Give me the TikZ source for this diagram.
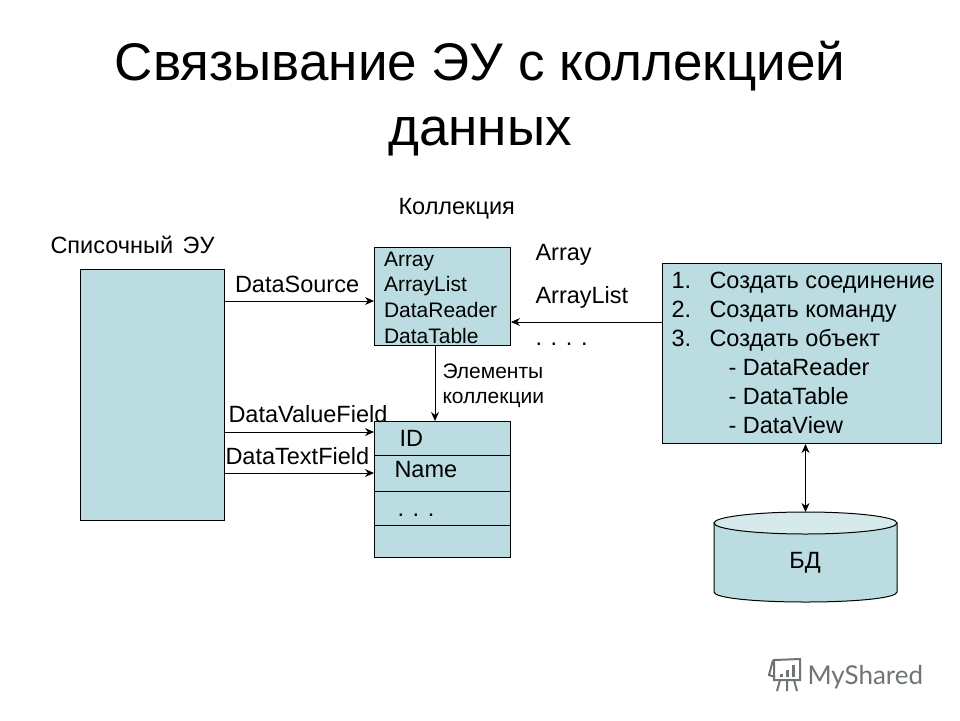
\documentclass[tikz,border=0pt]{standalone}
\usepackage{fontspec}
\setmainfont{Liberation Sans}
\newfontfamily\markfont{Lato}
\usetikzlibrary{arrows.meta}
\definecolor{boxfill}{HTML}{BBDDE1}
\definecolor{dbcap}{HTML}{D6EAEC}
\definecolor{markgray}{HTML}{6F7573}
\begin{document}
\begin{tikzpicture}[x=1pt,y=-1pt,
  font=\fontsize{23.5}{28}\selectfont, line width=1pt,
  box/.style={draw, fill=boxfill, anchor=north west, inner sep=0pt},
  lab/.style={anchor=base west, inner sep=0pt},
  small/.style={lab, font=\fontsize{21}{25}\selectfont},
  head/.style={anchor=base, inner sep=0pt, font=\fontsize{53}{64}\selectfont},
  arr/.style={-{Stealth[length=9pt,width=8pt]}}
]
\useasboundingbox (0,0) rectangle (960,720);
\fill[white] (0,0) rectangle (960,720);

\node[head] (title1) at (480,80) {Связывание ЭУ с коллекцией};
\node[head] (title2) at (480,145) {данных};

\node[lab] (listlab) at (50,253) {Списочный\hspace{3pt} ЭУ};
\node[box, minimum width=144, minimum height=251] (listbox) at (80,269) {};

\node[lab] (collab) at (398,214) {Коллекция};
\node[box, minimum width=136, minimum height=98] (coll) at (374,247) {};
\foreach \txt/\yy in {Array/266, ArrayList/291, DataReader/317, DataTable/343}
  \node[small] at (383.5,\yy) {\txt};

\node[box, minimum width=136, minimum height=34] (fid) at (374,421) {};
\node[box, minimum width=136, minimum height=36] (fname) at (374,455) {};
\node[box, minimum width=136, minimum height=34] (fdots) at (374,491) {};
\node[box, minimum width=136, minimum height=32] (fempty) at (374,525) {};
\node[lab] (idlab) at (399,446) {ID};
\node[lab] (namelab) at (394,477) {Name};
\node[lab] (dotslab) at (397,516) {. . .};

\node[box, minimum width=279, minimum height=180] (steps) at (662,263) {};
\foreach \num/\txt/\yy in {1./Создать соединение/288, 2./Создать команду/317, 3./Создать объект/346} {
  \node[lab] at (671,\yy) {\num};
  \node[lab] at (709,\yy) {\txt};
}
\foreach \txt/\yy in {DataReader/375, DataTable/404, DataView/433}
  \node[lab] at (728,\yy) {- \txt};

\path[draw, fill=boxfill] (714,523) -- (714,592) .. controls (714,598) and (755,602) .. (805.5,602)
  .. controls (856,602) and (897,598) .. (897,592) -- (897,523) -- cycle;
\draw[fill=dbcap] (805.5,523) ellipse [x radius=91.5, y radius=11];
\coordinate (dbhead) at (805.5,512);
\node[inner sep=0pt] (dblab) at (805,563) {БД};

\node[lab] (a1) at (535,260) {Array};
\node[lab] (a2) at (535,303) {ArrayList};
\node[lab] (a3) at (535,345) {. . . .};
\foreach \txt/\yy in {Элементы/378, коллекции/403}
  \node[small] at (442,\yy) {\txt};
\node[lab] (dsrc) at (234.5,292) {DataSource};
\node[lab] (dval) at (228,422) {DataValueField};
\node[lab] (dtxt) at (225,464) {DataTextField};

\draw[arr] (listbox.east |- 0,301) -- (coll.west |- 0,301);
\draw[arr] (listbox.east |- 0,432) -- (fid.west |- 0,432);
\draw[arr] (listbox.east |- 0,473) -- (fname.west |- 0,473);
\draw[arr] (coll.south -| 435,0) -- (fid.north -| 435,0);
\draw[arr] (steps.west |- 0,322) -- (coll.east |- 0,322);
\draw[{Stealth[length=9pt,width=8pt]}-{Stealth[length=9pt,width=8pt]}] (steps.south -| dbhead) -- (dbhead);

\node[lab, text=markgray, font=\markfont\fontsize{26}{30}\selectfont] (mark) at (807,684) {MyShared};
\draw[markgray, line width=2pt] (774,660) -- (800,659) -- (800,680) -- (774,680) -- cycle;
\draw[markgray, line width=2pt] (773,660) -- (769,675) -- (775,677);
\draw[markgray, line width=2pt] (780,680) -- (777,691) (787,680) -- (787,691) (794,680) -- (797,691);
\draw[markgray, line width=3pt] (781,677) -- (781,674) (787,677) -- (787,670) (793,677) -- (793,665);
\end{tikzpicture}
\end{document}
